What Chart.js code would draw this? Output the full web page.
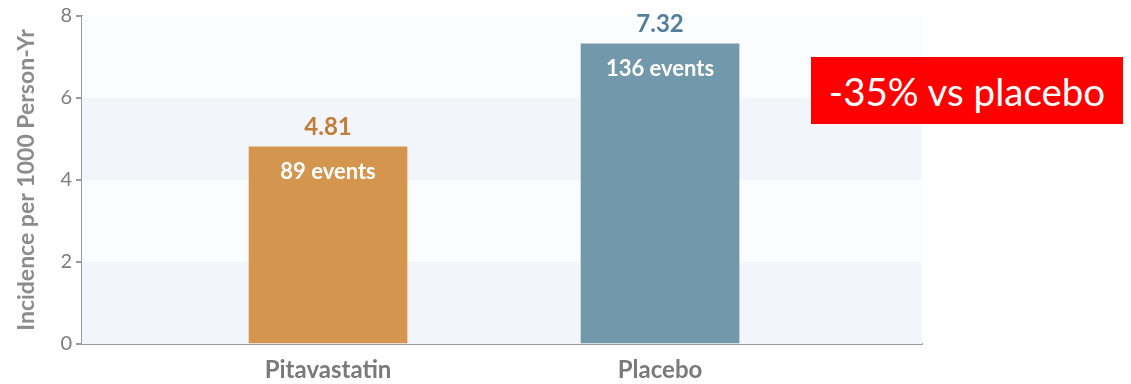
<!DOCTYPE html>
<html>
<head>
<meta charset="utf-8">
<script src="https://cdn.jsdelivr.net/npm/chart.js@4.4.1/dist/chart.umd.min.js"></script>
<style>
  html, body { margin: 0; padding: 0; background: #ffffff; }
  #wrap { position: relative; width: 1131px; height: 384px; }
  #badge {
    position: absolute; left: 811px; top: 57px; width: 312px; height: 67px;
    background: #ff0000; color: #ffffff;
    font-family: Lato, "Open Sans", sans-serif; font-size: 38.5px;
    display: flex; align-items: center; justify-content: center;
    white-space: nowrap;
  }
</style>
</head>
<body>
<div id="wrap">
  <canvas id="c" width="1131" height="384"></canvas>
  <div id="badge">-35% vs placebo</div>
</div>
<script>
// Incidence per 1000 person-years by treatment arm
const categories = ["Pitavastatin", "Placebo"];
const incidence = [4.81, 7.32];
const eventCounts = [89, 136];
const barColors = ["#d4954f", "#7298ab"];
const valueColors = ["#c27d38", "#527f9a"];
const yTicks = [0, 2, 4, 6, 8];
const bandColors = ["#f2f6fa", "#fafcfe", "#f2f6fa", "#fafcfe"];

// category i sits at x = i + 1 on a linear axis
const points = categories.map((c, i) => ({ x: i + 1, y: incidence[i] }));

const bandPlugin = {
  id: "bands",
  beforeDatasetsDraw(chart) {
    const { ctx, chartArea, scales } = chart;
    const y = scales.y;
    ctx.save();
    for (let i = 0; i < yTicks.length - 1; i++) {
      const top = y.getPixelForValue(yTicks[i + 1]);
      const bottom = y.getPixelForValue(yTicks[i]);
      ctx.fillStyle = bandColors[i];
      ctx.fillRect(chartArea.left, top, chartArea.right - chartArea.left, bottom - top);
    }
    ctx.restore();
  }
};

const labelPlugin = {
  id: "barLabels",
  afterDraw(chart) {
    const { ctx } = chart;
    const meta = chart.getDatasetMeta(0);
    ctx.save();
    ctx.textAlign = "center";
    ctx.textBaseline = "middle";
    meta.data.forEach((bar, i) => {
      ctx.font = "bold 24px Lato, sans-serif";
      ctx.fillStyle = valueColors[i];
      ctx.fillText(incidence[i].toFixed(2), bar.x, bar.y - 20);
      ctx.font = "bold 22px Lato, sans-serif";
      ctx.fillStyle = "#ffffff";
      ctx.fillText(eventCounts[i] + " events", bar.x, bar.y + 25);
    });
    ctx.restore();
  }
};

new Chart(document.getElementById("c"), {
  type: "bar",
  data: {
    datasets: [{
      data: points,
      backgroundColor: barColors,
      borderWidth: 0,
      barThickness: 158
    }]
  },
  options: {
    responsive: false,
    animation: false,
    layout: { padding: { left: 0, top: 12, right: 209, bottom: 0 } },
    plugins: { legend: { display: false }, tooltip: { enabled: false } },
    scales: {
      x: {
        type: "linear",
        offset: false,
        min: 0.259,
        max: 2.789,
        afterBuildTicks(scale) {
          scale.ticks = categories.map((c, i) => ({ value: i + 1 }));
        },
        afterFit(scale) { scale.height = 40; },
        ticks: {
          callback: (v) => categories[Math.round(v) - 1] || "",
          color: "#7a7a7a",
          font: { family: "Lato", size: 24, weight: "bold" },
          padding: 12,
          maxRotation: 0
        },
        grid: { display: true, drawOnChartArea: false, drawTicks: false },
        border: { display: true, color: "#9a9a9a", width: 2 }
      },
      y: {
        min: 0,
        max: 8,
        afterBuildTicks(scale) {
          scale.ticks = yTicks.map(v => ({ value: v }));
        },
        afterFit(scale) { scale.width = 82; },
        ticks: {
          color: "#7d7d7d",
          font: { family: "Lato", size: 20 },
          padding: 4
        },
        grid: { display: true, drawOnChartArea: false, drawTicks: true, tickLength: 6, color: "#9a9a9a", lineWidth: 2 },
        border: { display: true, color: "#9a9a9a", width: 2 },
        title: {
          display: true,
          text: "Incidence per 1000 Person-Yr",
          color: "#8c8c8c",
          font: { family: "Lato", size: 23, weight: "bold" },
          padding: { top: 13, bottom: 0 }
        }
      }
    }
  },
  plugins: [bandPlugin, labelPlugin]
});
</script>
</body>
</html>
